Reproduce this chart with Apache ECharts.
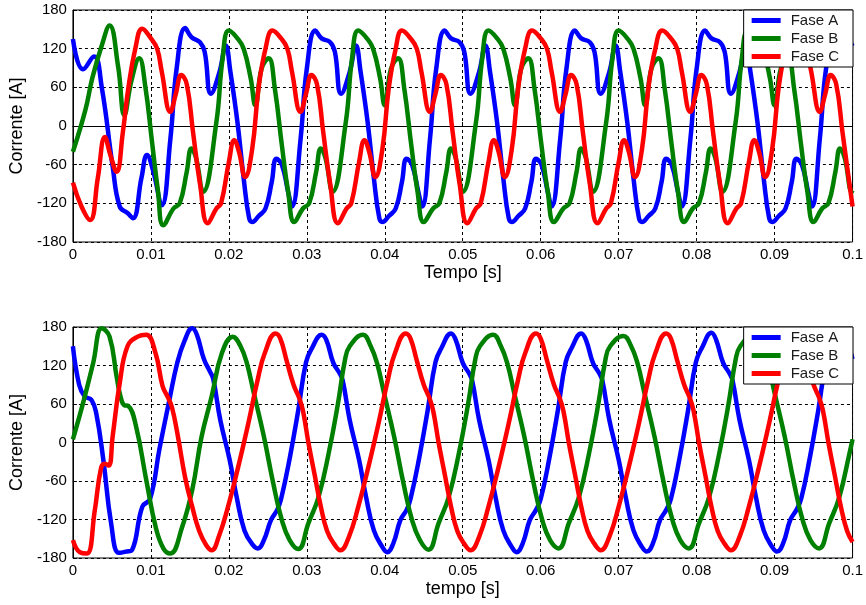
<!DOCTYPE html>
<html><head><meta charset="utf-8">
<script src="https://cdn.jsdelivr.net/npm/echarts@6/dist/echarts.min.js"></script>
<style>html,body{margin:0;padding:0;background:#fff}#c{width:866px;height:605px}</style>
</head><body><div id="c"></div>
<script>
const seriesNames = ['Fase A', 'Fase B', 'Fase C'];
const seriesColors = ['#0000ff', '#008000', '#ff0000'];
const xTickLabels = ['0','0.01','0.02','0.03','0.04','0.05','0.06','0.07','0.08','0.09','0.1'];
const yTickLabels = ['-180','-120','-60','0','60','120','180'];

// Top plot: [time s, current A]
const topFaseA = [[0,135],[0.0013,88],[0.0027,108],[0.0037,60],[0.0051,-63],[0.006,-125],[0.007,-135],[0.0077,-143],[0.0088,-80],[0.0095,-45],[0.0103,-70],[0.0114,-123],
[0.0125,-20],[0.0133,89],[0.0144,152],[0.0152,138],[0.0163,130],[0.0169,115],[0.0177,50],[0.0188,84],[0.0196,125],[0.0202,84],[0.0211,6],[0.0219,-81],[0.0226,-143],[0.023,-149],[0.0238,-140],[0.0247,-128],[0.0255,-87],[0.0261,-51],[0.0268,-60],[0.0276,-102],[0.0281,-125],
[0.0292,-20],[0.03,89],[0.0311,148],[0.0319,136],[0.033,130],[0.0336,115],[0.0344,50],[0.0355,84],[0.0363,125],[0.0369,84],[0.0378,6],[0.0386,-81],[0.0393,-143],[0.0397,-149],[0.0405,-140],[0.0414,-128],[0.0422,-87],[0.0428,-51],[0.0435,-60],[0.0443,-102],[0.0448,-125],
[0.0458,-20],[0.0466,89],[0.0477,148],[0.0485,136],[0.0496,130],[0.0502,115],[0.051,50],[0.0521,84],[0.0529,125],[0.0535,84],[0.0544,6],[0.0552,-81],[0.0559,-143],[0.0563,-149],[0.0571,-140],[0.058,-128],[0.0588,-87],[0.0594,-51],[0.0601,-60],[0.0609,-102],[0.0614,-125],
[0.0625,-20],[0.0633,89],[0.0644,148],[0.0652,136],[0.0663,130],[0.0669,115],[0.0677,50],[0.0688,84],[0.0696,125],[0.0702,84],[0.0711,6],[0.0719,-81],[0.0726,-143],[0.073,-149],[0.0738,-140],[0.0747,-128],[0.0755,-87],[0.0761,-51],[0.0768,-60],[0.0776,-102],[0.0781,-125],
[0.0792,-20],[0.08,89],[0.0811,148],[0.0819,136],[0.083,130],[0.0836,115],[0.0844,50],[0.0855,84],[0.0863,125],[0.0869,84],[0.0878,6],[0.0886,-81],[0.0893,-143],[0.0897,-149],[0.0905,-140],[0.0914,-128],[0.0922,-87],[0.0928,-51],[0.0935,-60],[0.0943,-102],[0.0948,-125],
[0.0958,-20],[0.0966,89],[0.0977,148],[0.0985,136],[0.0996,130],[0.1,124]];
const topFaseB = [[0,-40],[0.0016,25],[0.0025,75],[0.0037,125],[0.0047,156],[0.0058,92],[0.0066,17],[0.0075,70],[0.0085,105],[0.0093,60],[0.0101,-20],[0.0109,-100],[0.0116,-154],
[0.0129,-128],[0.0137,-120],[0.0146,-71],[0.0152,-35],[0.0158,-50],[0.0167,-102],[0.0184,6],[0.0192,105],[0.02,148],[0.0211,136],[0.0219,120],[0.0228,74],[0.0234,32],[0.0242,89],[0.0251,105],[0.0259,58],[0.0268,-30],[0.0276,-102],[0.0284,-149],
[0.0295,-128],[0.0303,-120],[0.0312,-71],[0.0318,-35],[0.0324,-50],[0.0333,-102],[0.035,6],[0.0358,105],[0.0366,148],[0.0377,136],[0.0385,120],[0.0394,74],[0.04,32],[0.0408,89],[0.0417,105],[0.0425,58],[0.0434,-30],[0.0442,-102],[0.045,-149],
[0.0462,-128],[0.047,-120],[0.0479,-71],[0.0485,-35],[0.0491,-50],[0.05,-102],[0.0517,6],[0.0525,105],[0.0533,148],[0.0544,136],[0.0552,120],[0.0561,74],[0.0567,32],[0.0575,89],[0.0584,105],[0.0592,58],[0.0601,-30],[0.0609,-102],[0.0617,-149],
[0.0629,-128],[0.0637,-120],[0.0646,-71],[0.0652,-35],[0.0658,-50],[0.0667,-102],[0.0684,6],[0.0692,105],[0.07,148],[0.0711,136],[0.0719,120],[0.0728,74],[0.0734,32],[0.0742,89],[0.0751,105],[0.0759,58],[0.0768,-30],[0.0776,-102],[0.0784,-149],
[0.0795,-128],[0.0803,-120],[0.0812,-71],[0.0818,-35],[0.0824,-50],[0.0833,-102],[0.085,6],[0.0858,105],[0.0866,148],[0.0877,136],[0.0885,120],[0.0894,74],[0.09,32],[0.0908,89],[0.0917,105],[0.0925,58],[0.0934,-30],[0.0942,-102],[0.095,-149],
[0.0961,-128],[0.0969,-120],[0.0978,-71],[0.0984,-35],[0.099,-50],[0.0999,-102],[0.1,-100]];
const topFaseC = [[0,-88],[0.0011,-125],[0.0022,-146],[0.0032,-80],[0.0041,-17],[0.0048,-45],[0.0056,-71],[0.0064,-10],[0.0071,58],[0.008,120],[0.0089,151],
[0.01,136],[0.0108,120],[0.0114,84],[0.0125,22],[0.0132,50],[0.0139,79],[0.0146,65],[0.0154,-9],[0.0163,-90],[0.0173,-151],[0.0184,-128],[0.019,-120],[0.02,-56],[0.0207,-22],[0.0213,-40],[0.0221,-79],[0.023,-35],[0.0238,58],[0.0247,120],
[0.0256,148],[0.0267,136],[0.0275,120],[0.0281,84],[0.0292,22],[0.0299,50],[0.0306,79],[0.0313,65],[0.0321,-9],[0.033,-90],[0.034,-151],[0.0351,-128],[0.0357,-120],[0.0367,-56],[0.0374,-22],[0.038,-40],[0.0388,-79],[0.0397,-35],[0.0405,58],[0.0414,120],
[0.0422,148],[0.0433,136],[0.0441,120],[0.0447,84],[0.0458,22],[0.0465,50],[0.0472,79],[0.0479,65],[0.0487,-9],[0.0496,-90],[0.0506,-151],[0.0517,-128],[0.0523,-120],[0.0533,-56],[0.054,-22],[0.0546,-40],[0.0554,-79],[0.0563,-35],[0.0571,58],[0.058,120],
[0.0589,148],[0.06,136],[0.0608,120],[0.0614,84],[0.0625,22],[0.0632,50],[0.0639,79],[0.0646,65],[0.0654,-9],[0.0663,-90],[0.0673,-151],[0.0684,-128],[0.069,-120],[0.07,-56],[0.0707,-22],[0.0713,-40],[0.0721,-79],[0.073,-35],[0.0738,58],[0.0747,120],
[0.0756,148],[0.0767,136],[0.0775,120],[0.0781,84],[0.0792,22],[0.0799,50],[0.0806,79],[0.0813,65],[0.0821,-9],[0.083,-90],[0.084,-151],[0.0851,-128],[0.0857,-120],[0.0867,-56],[0.0874,-22],[0.088,-40],[0.0888,-79],[0.0897,-35],[0.0905,58],[0.0914,120],
[0.0922,148],[0.0933,136],[0.0941,120],[0.0947,84],[0.0958,22],[0.0965,50],[0.0972,79],[0.0979,65],[0.0987,-9],[0.0996,-90],[0.1,-125]];

// Bottom plot: [time s, current A]
const botFaseA = [[0,150],[0.0008,90],[0.0015,72],[0.0024,66],[0.003,45],[0.0039,-27],[0.0049,-126],[0.0059,-172],[0.0068,-170],[0.0076,-167],[0.0089,-100],[0.0099,-88],[0.0111,-10],[0.0123,62],[0.0134,125],[0.0143,158],[0.0153,178],
[0.0159,168],[0.0168,130],[0.0176,110],[0.018,99],[0.0189,35],[0.0201,-27],[0.021,-85],[0.022,-137],[0.0231,-160],[0.0237,-165],[0.0245,-152],[0.0254,-121],[0.0262,-105],[0.0267,-88],[0.0278,-25],[0.0289,50],[0.0299,125],[0.0307,148],
[0.0319,168],[0.0325,160],[0.0334,124],[0.0342,108],[0.0346,97],[0.0355,35],[0.0367,-27],[0.0376,-85],[0.0386,-137],[0.0397,-163],[0.0403,-171],[0.0411,-157],[0.042,-121],[0.0428,-105],[0.0433,-88],[0.0444,-25],[0.0455,50],[0.0465,125],[0.0473,148],
[0.0485,170],[0.0491,160],[0.05,124],[0.0508,108],[0.0512,97],[0.0521,35],[0.0533,-27],[0.0542,-85],[0.0552,-137],[0.0563,-163],[0.0569,-171],[0.0577,-157],[0.0586,-121],[0.0594,-105],[0.06,-88],[0.0611,-25],[0.0622,50],[0.0632,125],[0.064,148],
[0.0652,170],[0.0658,160],[0.0667,124],[0.0675,108],[0.0679,97],[0.0688,35],[0.07,-27],[0.0709,-85],[0.0719,-137],[0.073,-163],[0.0736,-170],[0.0744,-157],[0.0753,-121],[0.0761,-105],[0.0767,-88],[0.0778,-25],[0.0789,50],[0.0799,125],[0.0807,148],
[0.0819,171],[0.0825,160],[0.0834,124],[0.0842,108],[0.0846,97],[0.0855,35],[0.0867,-27],[0.0876,-85],[0.0886,-137],[0.0897,-163],[0.0903,-170],[0.0911,-157],[0.092,-121],[0.0928,-105],[0.0934,-88],[0.0945,-25],[0.0956,50],[0.0966,125],[0.0974,148],
[0.0986,170],[0.0992,160],[0.1,130]];
const botFaseB = [[0,5],[0.0014,66],[0.0026,124],[0.0037,178],[0.0047,165],[0.0056,103],[0.0061,72],[0.0066,58],[0.0071,57],[0.0081,25],[0.0094,-58],[0.0106,-131],[0.0116,-165],[0.0125,-173],[0.014,-132],[0.0153,-74],[0.0165,9],[0.0178,72],[0.0191,139],
[0.0205,165],[0.0215,150],[0.0223,124],[0.0232,77],[0.0245,9],[0.0257,-64],[0.0268,-121],[0.0278,-152],[0.0289,-166],[0.0302,-126],[0.0315,-85],[0.0328,-17],[0.034,61],[0.0349,129],[0.0355,150],
[0.0372,168],[0.0382,150],[0.039,124],[0.0399,77],[0.0412,9],[0.0424,-64],[0.0435,-121],[0.0445,-152],[0.0456,-167],[0.0469,-126],[0.0482,-85],[0.0495,-17],[0.0507,61],[0.0516,129],[0.0522,150],
[0.0539,168],[0.0549,150],[0.0557,124],[0.0566,77],[0.0579,9],[0.0591,-64],[0.0602,-121],[0.0612,-152],[0.0623,-165],[0.0636,-126],[0.0649,-85],[0.0662,-17],[0.0674,61],[0.0683,129],[0.0689,150],
[0.0706,166],[0.0716,150],[0.0724,124],[0.0733,77],[0.0746,9],[0.0758,-64],[0.0769,-121],[0.0779,-152],[0.079,-165],[0.0803,-126],[0.0816,-85],[0.0829,-17],[0.0841,61],[0.085,129],[0.0856,150],
[0.0873,168],[0.0883,150],[0.0891,124],[0.09,77],[0.0913,9],[0.0925,-64],[0.0936,-121],[0.0946,-152],[0.0957,-165],[0.097,-126],[0.0983,-85],[0.0996,-17],[0.1,5]];
const botFaseC = [[0,-152],[0.0009,-171],[0.0018,-173],[0.0028,-106],[0.0036,-40],[0.0041,-33],[0.0046,-36],[0.0051,10],[0.006,92],[0.007,150],[0.0083,165],[0.0094,168],
[0.0106,139],[0.0115,88],[0.0122,70],[0.0127,55],[0.0134,14],[0.0144,-55],[0.0153,-100],[0.0162,-138],[0.0171,-160],[0.0178,-168],[0.0187,-147],[0.0199,-100],[0.0212,-38],[0.0225,30],[0.0237,98],[0.0246,139],
[0.026,170],[0.0266,162],[0.0274,128],[0.0283,90],[0.029,70],[0.0295,50],[0.0302,0],[0.031,-50],[0.0318,-100],[0.0326,-138],[0.0335,-158],[0.0343,-168],[0.0354,-147],[0.0366,-100],[0.0379,-38],[0.0392,30],[0.0404,98],[0.0413,139],
[0.0427,170],[0.0433,162],[0.0441,128],[0.045,90],[0.0457,70],[0.0462,50],[0.0469,0],[0.0477,-50],[0.0485,-100],[0.0493,-138],[0.0502,-158],[0.051,-168],[0.0521,-147],[0.0533,-100],[0.0546,-38],[0.0559,30],[0.0571,98],[0.058,139],
[0.0594,170],[0.06,162],[0.0608,128],[0.0617,90],[0.0624,70],[0.0629,50],[0.0636,0],[0.0644,-50],[0.0652,-100],[0.066,-138],[0.0669,-158],[0.0677,-168],[0.0688,-147],[0.07,-100],[0.0713,-38],[0.0726,30],[0.0738,98],[0.0747,139],
[0.0761,170],[0.0767,162],[0.0775,128],[0.0784,90],[0.0791,70],[0.0796,50],[0.0803,0],[0.0811,-50],[0.0819,-100],[0.0827,-138],[0.0836,-158],[0.0844,-168],[0.0855,-147],[0.0867,-100],[0.088,-38],[0.0893,30],[0.0905,98],[0.0914,139],
[0.0927,170],[0.0933,162],[0.0941,128],[0.095,90],[0.0957,70],[0.0962,50],[0.0969,0],[0.0977,-50],[0.0985,-100],[0.0993,-138],[0.1,-155]];

const FONT = '"Liberation Sans", Arial, sans-serif';
const topSeries = [topFaseA, topFaseB, topFaseC];
const botSeries = [botFaseA, botFaseB, botFaseC];

function xAxisCfg(gi, name) {
  return {
    gridIndex: gi, type: 'value', min: 0, max: 0.1, interval: 0.01,
    name: name, nameLocation: 'middle', nameGap: 22,
    nameTextStyle: { fontFamily: FONT, fontSize: 18, color: '#000' },
    axisLine: { show: true, lineStyle: { color: '#000', width: 1 } },
    axisTick: { show: true, inside: true, length: 4, lineStyle: { color: '#000' } },
    axisLabel: { fontFamily: FONT, fontSize: 15, color: '#000', margin: 5,
      formatter: v => xTickLabels[Math.round(v * 100)] },
    splitLine: { show: true, lineStyle: { color: '#000', width: 1, type: [3, 3] } }
  };
}
function yAxisCfg(gi) {
  return {
    gridIndex: gi, type: 'value', min: -180, max: 180, interval: 60,
    name: 'Corrente [A]', nameLocation: 'middle', nameGap: 46,
    nameTextStyle: { fontFamily: FONT, fontSize: 18, color: '#000' },
    axisLine: { show: true, lineStyle: { color: '#000', width: 1 } },
    axisTick: { show: true, inside: true, length: 4, lineStyle: { color: '#000' } },
    axisLabel: { fontFamily: FONT, fontSize: 15, color: '#000', margin: 6,
      formatter: v => yTickLabels[Math.round((v + 180) / 60)] },
    splitLine: { show: true, lineStyle: { color: '#000', width: 1, type: [3, 3] } }
  };
}
function legendCfg(top) {
  return {
    orient: 'vertical', right: 13, top: top, data: seriesNames,
    icon: 'rect', itemWidth: 29, itemHeight: 5, itemGap: 3,
    padding: [3, 14, 3, 8], backgroundColor: '#fff', borderColor: '#000', borderWidth: 1,
    selectedMode: false,
    textStyle: { fontFamily: FONT, fontSize: 15, color: '#1a1a1a', lineHeight: 15, padding: [0, 0, 0, 5] }
  };
}
const series = [];
[topSeries, botSeries].forEach((set, gi) => {
  set.forEach((data, i) => {
    series.push({
      type: 'line', name: seriesNames[i], xAxisIndex: gi, yAxisIndex: gi, data: data,
      showSymbol: false, smooth: 0.45,
      lineStyle: { width: 4.5, color: seriesColors[i] }, itemStyle: { color: seriesColors[i] },
      z: 2 + i * 0.1
    });
  });
});
const chart = echarts.init(document.getElementById('c'));
chart.setOption({
  animation: false,
  backgroundColor: '#fff',
  grid: [
    { left: 59, top: 10, width: 794, height: 232, show: true, borderColor: '#000', borderWidth: 1, backgroundColor: 'transparent' },
    { left: 59, top: 327, width: 794, height: 231, show: true, borderColor: '#000', borderWidth: 1, backgroundColor: 'transparent' }
  ],
  xAxis: [xAxisCfg(0, 'Tempo [s]'), xAxisCfg(1, 'tempo [s]')],
  yAxis: [yAxisCfg(0), yAxisCfg(1)],
  legend: [legendCfg(10), legendCfg(327)],
  series: series
});
</script></body></html>
